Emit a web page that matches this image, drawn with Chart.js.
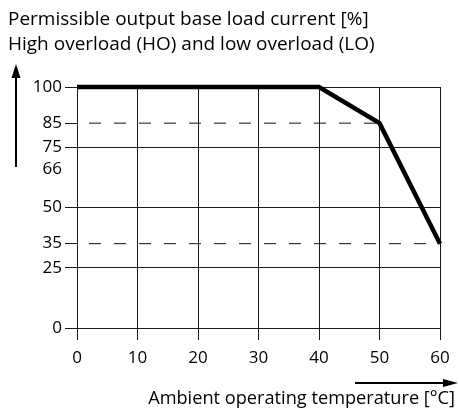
<!DOCTYPE html>
<html>
<head>
<meta charset="utf-8">
<script src="https://cdn.jsdelivr.net/npm/chart.js@4.4.1/dist/chart.umd.min.js"></script>
<style>
  html, body { margin: 0; padding: 0; background: #fff; }
  #wrap { width: 459px; height: 417px; }
</style>
</head>
<body>
<div id="wrap"><canvas id="c" width="459" height="417"></canvas></div>
<script>
// Derating curve: permissible base load current vs. ambient temperature
const temperatures = [0, 40, 50, 60];
const loadCurrent = [100, 100, 85, 35];

// Reference levels drawn as dashed lines (value, temperature where it ends)
const refLevels = [85, 35];
const refEnds = [50, 60];

// Tick labels on the current axis
const yTickValues = [0, 25, 35, 50, 66, 75, 85, 100];
const solidGridValues = [0, 25, 50, 75, 100];

const titleLines = [
  'Permissible output base load current [%]',
  'High overload (HO) and low overload (LO)'
];
const xTitle = 'Ambient operating temperature [°C]';

const FONT = '"Open Sans", "DejaVu Sans", sans-serif';
const INK = '#000';
const GRID = '#1a1a1a';

const curve = temperatures.map((t, i) => ({ x: t, y: loadCurrent[i] }));
const refSets = refLevels.map((v, i) => ({
  type: 'line',
  data: [{ x: 0, y: v }, { x: refEnds[i], y: v }],
  borderColor: '#111',
  borderWidth: 1,
  borderDash: [12, 13],
  borderDashOffset: 13,
  pointRadius: 0,
  clip: false,
  order: 2
}));

function arrow(ctx, x1, y1, x2, y2, headLen, headW) {
  const ang = Math.atan2(y2 - y1, x2 - x1);
  const bx = x2 - headLen * Math.cos(ang);
  const by = y2 - headLen * Math.sin(ang);
  ctx.beginPath();
  ctx.moveTo(x1, y1);
  ctx.lineTo(bx, by);
  ctx.stroke();
  ctx.beginPath();
  ctx.moveTo(x2, y2);
  ctx.lineTo(bx + headW / 2 * Math.sin(ang), by - headW / 2 * Math.cos(ang));
  ctx.lineTo(bx - headW / 2 * Math.sin(ang), by + headW / 2 * Math.cos(ang));
  ctx.closePath();
  ctx.fill();
}

const annotations = {
  id: 'annotations',
  afterDraw(chart) {
    const ctx = chart.ctx;
    ctx.save();
    ctx.fillStyle = INK;
    ctx.strokeStyle = INK;
    ctx.lineWidth = 2;
    // axis direction arrows
    arrow(ctx, 16, 167, 16, 64, 14, 9);
    arrow(ctx, 355, 383, 458, 383, 15, 8);
    // titles
    ctx.font = '19px ' + FONT;
    ctx.textBaseline = 'alphabetic';
    ctx.textAlign = 'left';
    ctx.fillText(titleLines[0], 8, 25);
    ctx.fillText(titleLines[1], 8, 50);
    ctx.font = '18.2px ' + FONT;
    ctx.textAlign = 'right';
    ctx.fillText(xTitle, 455, 404);
    ctx.restore();
  }
};

new Chart(document.getElementById('c'), {
  type: 'line',
  data: {
    datasets: [
      {
        data: curve,
        borderColor: '#000',
        borderWidth: 4.5,
        borderJoinStyle: 'miter',
        borderCapStyle: 'butt',
        pointRadius: 0,
        tension: 0,
        clip: false,
        order: 1
      },
      ...refSets
    ]
  },
  options: {
    responsive: false,
    animation: false,
    events: [],
    layout: { padding: { left: 0, top: 87, right: 19, bottom: 0 } },
    plugins: { legend: { display: false }, tooltip: { enabled: false }, title: { display: false } },
    scales: {
      x: {
        type: 'linear',
        min: 0, max: 60,
        afterFit(s) { s.height = 89; },
        ticks: { stepSize: 10, color: INK, font: { family: FONT, size: 17 }, padding: 8, maxRotation: 0 },
        grid: { color: GRID, lineWidth: 1, tickLength: 12, tickColor: GRID },
        border: { display: true, color: GRID }
      },
      y: {
        type: 'linear',
        min: 0, max: 100,
        afterFit(s) { s.width = 77; },
        afterBuildTicks(s) { s.ticks = yTickValues.map(v => ({ value: v })); },
        ticks: { color: INK, font: { family: FONT, size: 17 }, padding: 3, autoSkip: false },
        grid: {
          lineWidth: 1,
          tickLength: 12,
          color: c => solidGridValues.includes(c.tick && c.tick.value) ? GRID : 'rgba(0,0,0,0)',
          tickColor: c => (c.tick && c.tick.value === 66) ? 'rgba(0,0,0,0)' : GRID
        },
        border: { display: true, color: GRID }
      }
    }
  },
  plugins: [annotations]
});
</script>
</body>
</html>
